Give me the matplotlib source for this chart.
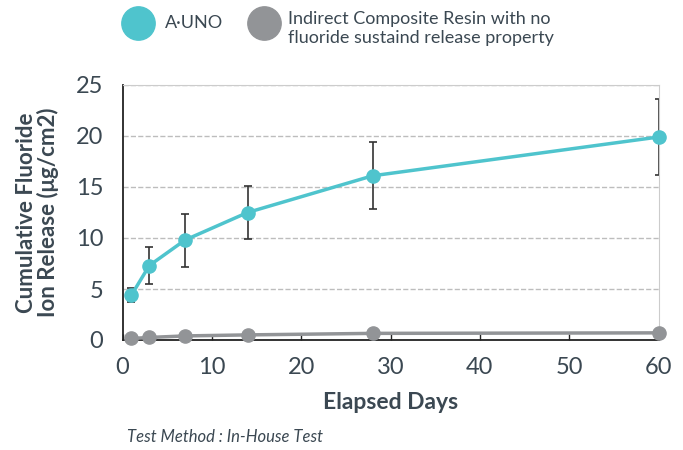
import matplotlib
matplotlib.use("Agg")
import matplotlib.pyplot as plt
from matplotlib.lines import Line2D

plt.rcParams['font.family'] = ['Lato', 'DejaVu Sans']

# data
days = [1, 3, 7, 14, 28, 60]
auno = [4.4, 7.3, 9.8, 12.5, 16.1, 19.9]
auno_err = [0.65, 1.8, 2.6, 2.6, 3.3, 3.7]
resin = [0.15, 0.25, 0.4, 0.5, 0.65, 0.7]

teal = '#4fc4cd'
grey = '#929497'
txt = '#3b4852'

fig = plt.figure(figsize=(6.83, 4.5), dpi=100)
ax = fig.add_axes([122.5 / 683, 1 - 340 / 450, 536 / 683, 255 / 450])

ax.errorbar(days, auno, yerr=auno_err, fmt='none', ecolor='#333333',
            elinewidth=1.2, capsize=2.6, capthick=1.2, zorder=2)
ax.plot(days, auno, color=teal, lw=2.5, marker='o', ms=9.5, zorder=3, clip_on=False)
ax.plot(days, resin, color=grey, lw=2.5, marker='o', ms=9.5, zorder=3, clip_on=False)

ax.set_xlim(0, 60)
ax.set_ylim(0, 25)
ax.set_xticks(range(0, 61, 10))
ax.set_yticks(range(0, 26, 5))
ax.grid(axis='y', ls='--', color='#bdbdbd', lw=1)
ax.set_axisbelow(True)

for s in ['top', 'right']:
    ax.spines[s].set_color('#cccccc')
for s in ['left', 'bottom']:
    ax.spines[s].set_color('#222222')
    ax.spines[s].set_linewidth(1.3)

ax.tick_params(axis='x', direction='in', length=4, width=1, colors='#222222',
               labelcolor=txt, labelsize=17, pad=12)
ax.tick_params(axis='y', length=0, labelcolor=txt, labelsize=17, pad=14)

ax.set_xlabel('Elapsed Days', fontsize=16.5, fontweight='bold', color=txt, labelpad=10)
ax.set_ylabel('Cumulative Fluoride\nIon Release (μg/cm2)', fontsize=16,
              fontweight='bold', color=txt, labelpad=12, linespacing=1.0)

# legend drawn at the top
fig.add_artist(Line2D([138 / 683], [1 - 23 / 450], marker='o', ms=24, color=teal,
                      lw=0, transform=fig.transFigure))
fig.add_artist(Line2D([264 / 683], [1 - 23 / 450], marker='o', ms=24, color=grey,
                      lw=0, transform=fig.transFigure))
fig.text(165 / 683, 1 - 23 / 450, 'A·UNO', fontsize=13, color=txt, va='center')
fig.text(288 / 683, 1 - 11 / 450,
         'Indirect Composite Resin with no\nfluoride sustaind release property',
         fontsize=13, color=txt, va='top', linespacing=1.2)

fig.text(127 / 683, 1 - 437 / 450, 'Test Method : In-House Test', fontsize=12,
         style='italic', color=txt, va='center')

fig.savefig('out.png', dpi=100)
